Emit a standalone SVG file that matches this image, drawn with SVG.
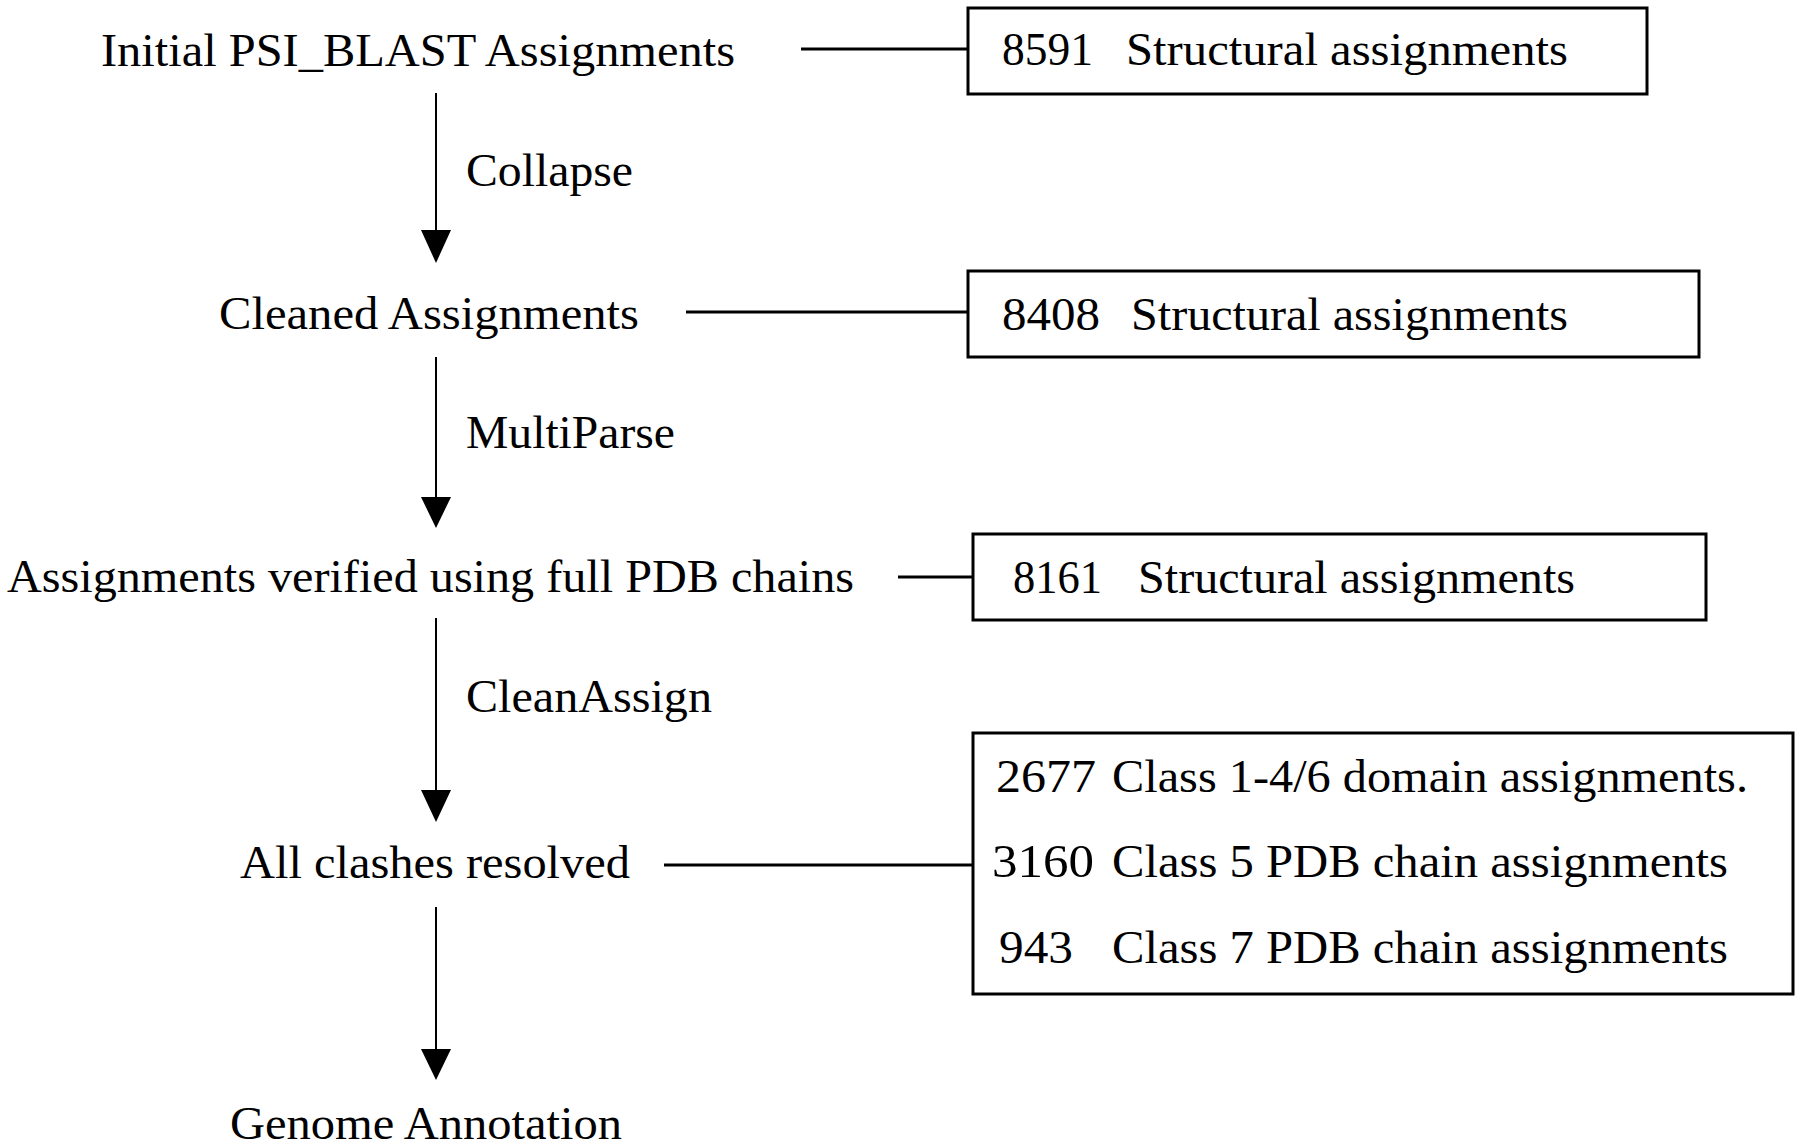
<svg xmlns="http://www.w3.org/2000/svg" width="1800" height="1146" viewBox="0 0 1800 1146">
<style>
text{font-family:"Liberation Serif","DejaVu Serif",serif;font-size:46px;fill:#000}
.box{fill:#fff;stroke:#000;stroke-width:3}
.link{stroke:#000;stroke-width:3;fill:none}
.flow{stroke:#000;stroke-width:2;fill:none}
</style>
<defs>
<marker id="ah" viewBox="0 0 30 33" refX="15" refY="33" markerWidth="30" markerHeight="33" markerUnits="userSpaceOnUse" orient="auto-start-reverse">
<path d="M0,0 L30,0 L15,33 Z" fill="#000"/>
</marker>
</defs>
<rect x="0" y="0" width="1800" height="1146" fill="#fff"/>
<g id="connectors">
<line class="flow" x1="436" y1="93" x2="436" y2="232"/>
<path d="M421,230 L451,230 L436,263 Z" fill="#000"/>
<line class="flow" x1="436" y1="357" x2="436" y2="499"/>
<path d="M421,497 L451,497 L436,528 Z" fill="#000"/>
<line class="flow" x1="436" y1="618" x2="436" y2="792"/>
<path d="M421,790 L451,790 L436,822 Z" fill="#000"/>
<line class="flow" x1="436" y1="907" x2="436" y2="1051"/>
<path d="M421,1049 L451,1049 L436,1080 Z" fill="#000"/>
<line class="link" x1="801" y1="49" x2="968" y2="49"/>
<line class="link" x1="686" y1="312" x2="968" y2="312"/>
<line class="link" x1="898" y1="577" x2="973" y2="577"/>
<line class="link" x1="664" y1="865" x2="973" y2="865"/>
<text x="466" y="186" textLength="167" lengthAdjust="spacingAndGlyphs">Collapse</text>
<text x="466" y="448" textLength="209" lengthAdjust="spacingAndGlyphs">MultiParse</text>
<text x="466" y="712" textLength="246" lengthAdjust="spacingAndGlyphs">CleanAssign</text>
</g>
<g id="n-initial"><text x="101" y="66" textLength="634" lengthAdjust="spacingAndGlyphs">Initial PSI_BLAST Assignments</text></g>
<g id="n-cleaned"><text x="219" y="329" textLength="420" lengthAdjust="spacingAndGlyphs">Cleaned Assignments</text></g>
<g id="n-verified"><text x="7" y="592" textLength="847" lengthAdjust="spacingAndGlyphs">Assignments verified using full PDB chains</text></g>
<g id="n-resolved"><text x="240" y="878" textLength="390" lengthAdjust="spacingAndGlyphs">All clashes resolved</text></g>
<g id="n-genome"><text x="230" y="1139" textLength="392" lengthAdjust="spacingAndGlyphs">Genome Annotation</text></g>
<g id="b-8591">
<rect class="box" x="968" y="8" width="679" height="86"/>
<text x="1002" y="65" textLength="91" lengthAdjust="spacingAndGlyphs">8591</text>
<text x="1126" y="65" textLength="442" lengthAdjust="spacingAndGlyphs">Structural assignments</text>
</g>
<g id="b-8408">
<rect class="box" x="968" y="271" width="731" height="86"/>
<text x="1002" y="330" textLength="98" lengthAdjust="spacingAndGlyphs">8408</text>
<text x="1131" y="330" textLength="437" lengthAdjust="spacingAndGlyphs">Structural assignments</text>
</g>
<g id="b-8161">
<rect class="box" x="973" y="534" width="733" height="86"/>
<text x="1013" y="593" textLength="89" lengthAdjust="spacingAndGlyphs">8161</text>
<text x="1138" y="593" textLength="437" lengthAdjust="spacingAndGlyphs">Structural assignments</text>
</g>
<g id="b-classes">
<rect class="box" x="973" y="733" width="820" height="261"/>
<text x="996" y="792" textLength="100" lengthAdjust="spacingAndGlyphs">2677</text>
<text x="1112" y="792" textLength="636" lengthAdjust="spacingAndGlyphs">Class 1-4/6 domain assignments.</text>
<text x="992" y="877" textLength="102" lengthAdjust="spacingAndGlyphs">3160</text>
<text x="1112" y="877" textLength="616" lengthAdjust="spacingAndGlyphs">Class 5 PDB chain assignments</text>
<text x="999" y="963" textLength="74" lengthAdjust="spacingAndGlyphs">943</text>
<text x="1112" y="963" textLength="616" lengthAdjust="spacingAndGlyphs">Class 7 PDB chain assignments</text>
</g>
</svg>
